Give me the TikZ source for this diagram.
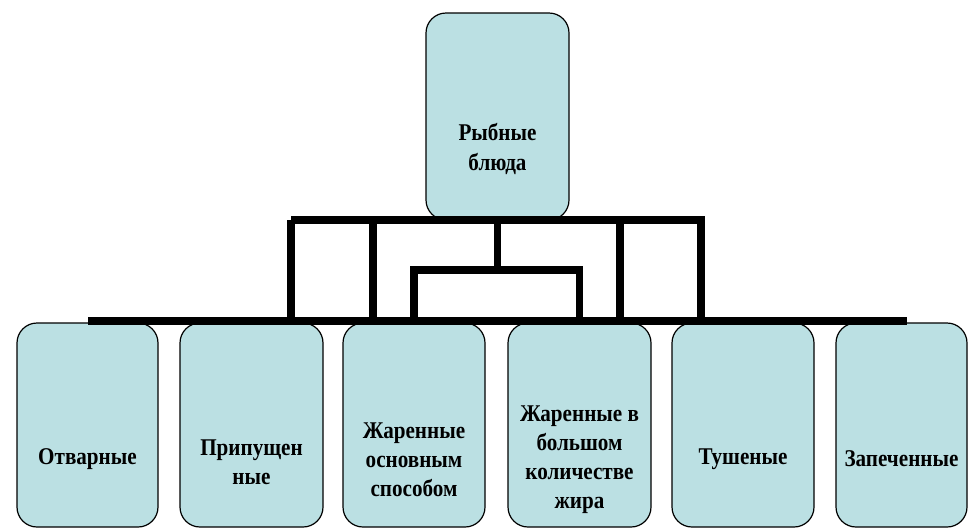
\documentclass[tikz,border=0pt]{standalone}
\usepackage{fontspec}
\newfontfamily\lblfont{Liberation Serif Bold}[FakeStretch=0.88]
\usetikzlibrary{calc}
\definecolor{boxfill}{HTML}{BBE0E3}
\begin{document}
\begin{tikzpicture}[x=1pt,y=-1pt,
  box/.style={draw=black,line width=1.2pt,fill=boxfill,rounded corners=20pt,
    minimum height=204pt,inner sep=0pt,anchor=center},
  lbl/.style={font=\lblfont\fontsize{24}{29}\selectfont,align=center,inner sep=0pt,text=black},
  conn/.style={draw=black,line width=7.5pt,line join=miter,line cap=butt}]
\useasboundingbox (0,0) rectangle (969,528);
% boxes
\node[box,minimum width=143pt,minimum height=207pt] (top) at (497.5,116.5) {};
\node[box,minimum width=141pt] (b1) at (87.5,425) {};
\node[box,minimum width=143pt] (b2) at (251.5,425) {};
\node[box,minimum width=142pt] (b3) at (414,425) {};
\node[box,minimum width=143pt] (b4) at (579.5,425) {};
\node[box,minimum width=142pt] (b5) at (743,425) {};
\node[box,minimum width=131pt] (b6) at (901.5,425) {};
% labels
\node[lbl,font=\lblfont\fontsize{24}{30}\selectfont] (ttop) at (497.5,149) {Рыбные\\блюда};
\node[lbl] (t1) at (87.5,459) {Отварные};
\node[lbl] (t2) at (251.5,462) {Припущен\\ные};
\node[lbl] (t3) at (414,460) {Жаренные\\основным\\способом};
\node[lbl] (t4) at (579.5,460) {Жаренные в\\большом\\количестве\\жира};
\node[lbl] (t5) at (743,459) {Тушеные};
\node[lbl] (t6) at (901.5,459) {Запеченные};
% connector coordinates
\coordinate (hl) at (291,220);
\coordinate (hr) at (701,220);
\coordinate (bl) at (88,321);
\coordinate (br) at (907,321);
\coordinate (mid) at (497.5,270);
% frame
\draw[conn] (hl) -- (hr) -- (hr |- br);
\draw[conn] (hl) -- (hl |- br);
\draw[conn] (373,220) -- (373,321);
\draw[conn] (620,220) -- (620,321);
\draw[conn] (top.south) -- (mid);
\draw[conn] (b3.north |- br) -- (b3.north |- mid) -- (b4.north |- mid) -- (b4.north |- br);
\draw[conn] (bl) -- (br);
\end{tikzpicture}
\end{document}
